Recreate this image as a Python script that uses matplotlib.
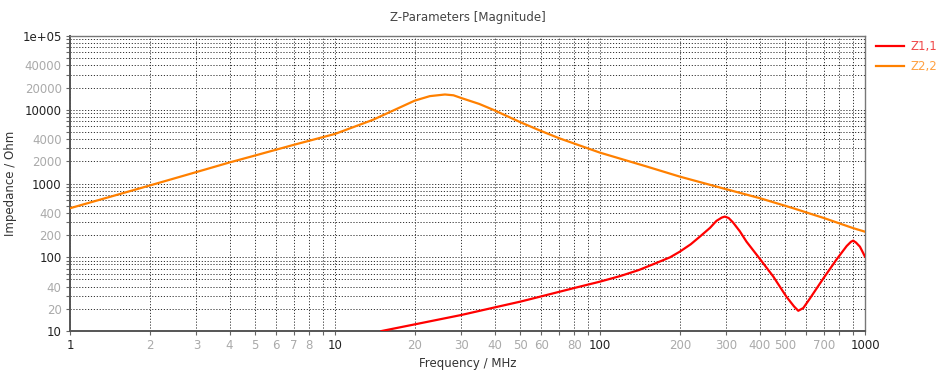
import matplotlib
matplotlib.use("Agg")
import matplotlib.pyplot as plt

# ---- data ----
freq_z22 = [1, 2, 3, 4, 5, 7, 10, 13.9, 16.1, 20, 22.8, 26, 28, 30, 35, 39.6, 50, 59.4, 70,
            100, 150, 200, 296, 402, 536, 700, 903, 1000]
z22 = [462, 940, 1430, 1930, 2400, 3350, 4700, 7300, 9300, 13300, 15300, 16100, 15700, 14400,
       12000, 9970, 6790, 5220, 4120, 2620, 1700, 1240, 846, 631, 462, 340, 248, 222]

freq_z11 = [15, 20, 30, 39.6, 50, 59.4, 79.3, 100, 119.4, 140, 165, 184, 200, 220, 238, 260,
            275, 288, 296, 306, 318, 337, 357, 402, 451, 505, 540, 560, 585, 620, 697, 782,
            853, 885, 903, 925, 957, 1000]
z11 = [10.0, 12.3, 16.5, 20.7, 25.0, 29.2, 38.0, 46.7, 55.7, 67, 85, 100, 119, 150, 190, 250,
       311, 345, 356, 340, 295, 225, 163, 94, 54.6, 29.2, 21.5, 18.8, 20.5, 27.7, 51.9, 94,
       142, 162, 168, 158, 139, 102]

series_names = ["Z1,1", "Z2,2"]
x_ticks = [1, 2, 3, 4, 5, 6, 7, 8, 9,
           10, 20, 30, 40, 50, 60, 70, 80, 90,
           100, 200, 300, 400, 500, 600, 700, 800, 900, 1000]
x_labels = ["1", "2", "3", "4", "5", "6", "7", "8", "",
            "10", "20", "30", "40", "50", "60", "", "80", "",
            "100", "200", "300", "400", "500", "", "700", "", "", "1000"]
y_ticks = [10, 20, 30, 40, 50, 60, 70, 80, 90,
           100, 200, 300, 400, 500, 600, 700, 800, 900,
           1000, 2000, 3000, 4000, 5000, 6000, 7000, 8000, 9000,
           10000, 20000, 30000, 40000, 50000, 60000, 70000, 80000, 90000, 100000]
y_labels = ["10", "20", "", "40", "", "", "", "", "",
            "100", "200", "", "400", "", "", "", "", "",
            "1000", "2000", "", "4000", "", "", "", "", "",
            "10000", "20000", "", "40000", "", "", "", "", "",
            "1e+05"]
major_x = {1, 10, 100, 1000}
major_y = {10, 100, 1000, 10000, 100000}

plt.rcParams['font.family'] = ['DejaVu Sans']

fig = plt.figure(figsize=(9.4, 3.75), dpi=100)
ax = fig.add_axes([70/940, 1-331/375, (865-70)/940, (331-36)/375])

ax.set_xscale('log')
ax.set_yscale('log')
ax.set_xlim(1, 1000)
ax.set_ylim(10, 100000)

ax.plot(freq_z11, z11, color='#ff0000', lw=1.6, label=series_names[0], zorder=3)
ax.plot(freq_z22, z22, color='#ff8000', lw=1.6, label=series_names[1], zorder=3)

ax.set_xticks(x_ticks)
ax.set_xticklabels(x_labels)
ax.set_yticks(y_ticks)
ax.set_yticklabels(y_labels)
ax.minorticks_off()
ax.tick_params(axis='both', which='major', length=3, width=0.8, color='#666666',
               labelsize=8.5, pad=3)
for t, v in zip(ax.get_xticklabels(), x_ticks):
    t.set_color('#222222' if v in major_x else '#aaaaaa')
for t, v in zip(ax.get_yticklabels(), y_ticks):
    t.set_color('#222222' if v in major_y else '#aaaaaa')

ax.grid(True, which='major', color='#333333', linestyle=(0, (1.2, 1.8)), linewidth=0.7)

for s in ax.spines.values():
    s.set_color('#777777')
    s.set_linewidth(1.0)
ax.spines['left'].set_color('#555555')
ax.spines['bottom'].set_color('#555555')
ax.spines['left'].set_linewidth(1.4)
ax.spines['bottom'].set_linewidth(1.4)

ax.set_title("Z-Parameters [Magnitude]", fontsize=8.5, color='#444444', pad=11)
ax.set_xlabel("Frequency / MHz", fontsize=8.5, color='#333333', labelpad=3)
ax.set_ylabel("Impedance / Ohm", fontsize=8.5, color='#333333', labelpad=4)

leg = ax.legend(loc='upper left', bbox_to_anchor=(1.005, 1.01), frameon=False,
                fontsize=8.5, handlelength=2.4, handletextpad=0.5, labelspacing=0.6,
                borderaxespad=0.2)
leg.get_texts()[0].set_color('#f04848')
leg.get_texts()[1].set_color('#ffa040')

fig.savefig("out.png", dpi=100, facecolor='white')
